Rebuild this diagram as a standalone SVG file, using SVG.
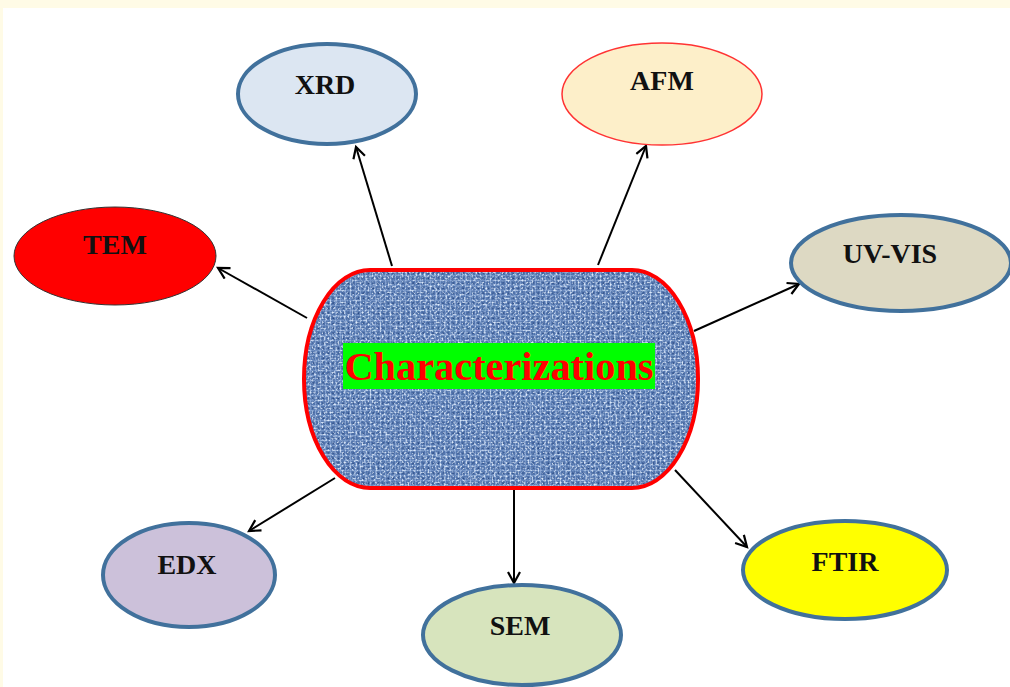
<svg xmlns="http://www.w3.org/2000/svg" width="1010" height="687" viewBox="0 0 1010 687">
  <style>
    .lbl { font-family: "Liberation Serif", "Times New Roman", serif; font-weight: bold; font-size: 28px; fill: #111; text-anchor: middle; }
    .blueline { stroke: #41719c; stroke-width: 4; }
    .conn { stroke: #000; stroke-width: 2; fill: none; marker-end: url(#arr); }
  </style>
  <defs>
    <marker id="arr" markerWidth="16" markerHeight="16" refX="12" refY="7" orient="auto" markerUnits="userSpaceOnUse">
      <path d="M1,1 L12,7 L1,13" fill="none" stroke="#000" stroke-width="2.2"/>
    </marker>
    <filter id="darkspk" x="0" y="0" width="100%" height="100%">
      <feTurbulence type="fractalNoise" baseFrequency="0.55 0.55" numOctaves="2" seed="3" result="n"/>
      <feColorMatrix in="n" type="matrix" values="0 0 0 0 0.10  0 0 0 0 0.20  0 0 0 0 0.45  3.2 0 0 0 -1.45" result="c"/>
      <feComposite in="c" in2="SourceGraphic" operator="in"/>
    </filter>
    <filter id="lightspk" x="0" y="0" width="100%" height="100%">
      <feTurbulence type="fractalNoise" baseFrequency="0.5 0.5" numOctaves="2" seed="11" result="n"/>
      <feColorMatrix in="n" type="matrix" values="0 0 0 0 0.72  0 0 0 0 0.82  0 0 0 0 0.96  0 3.2 0 0 -1.5" result="c"/>
      <feComposite in="c" in2="SourceGraphic" operator="in"/>
    </filter>
    <pattern id="weave" width="5" height="5" patternUnits="userSpaceOnUse">
      <rect width="5" height="5" fill="#4f72ab"/>
      <rect x="0" y="0" width="1" height="5" fill="#9fbbe6" opacity="0.55"/>
      <rect x="0" y="0" width="5" height="1" fill="#9fbbe6" opacity="0.45"/>
      <rect x="2.5" y="2.5" width="1.5" height="1.5" fill="#1a3670" opacity="0.7"/>
    </pattern>
    <clipPath id="mainclip">
      <path d="M370,270 L632,270 A66,109 0 0 1 632,488 L370,488 A66,109 0 0 1 370,270 Z"/>
    </clipPath>
  </defs>

  <rect x="0" y="0" width="1010" height="687" fill="#fffbe6"/>
  <rect x="3" y="8" width="1007" height="679" fill="#ffffff"/>

  <g id="connectors">
    <line class="conn" x1="392" y1="266" x2="356" y2="147"/>
    <line class="conn" x1="598" y1="265" x2="646" y2="146"/>
    <line class="conn" x1="307" y1="318" x2="218" y2="268"/>
    <line class="conn" x1="694" y1="331" x2="799" y2="284"/>
    <line class="conn" x1="335" y1="478" x2="249" y2="531"/>
    <line class="conn" x1="514" y1="490" x2="514" y2="583"/>
    <line class="conn" x1="675" y1="470" x2="747" y2="547"/>
  </g>

  <g id="center">
    <g clip-path="url(#mainclip)">
      <rect x="300" y="268" width="402" height="222" fill="url(#weave)"/>
      <rect x="300" y="268" width="402" height="222" fill="#4f72ab" filter="url(#darkspk)"/>
      <rect x="300" y="268" width="402" height="222" fill="#4f72ab" filter="url(#lightspk)"/>
    </g>
    <path d="M370,270 L632,270 A66,109 0 0 1 632,488 L370,488 A66,109 0 0 1 370,270 Z" fill="none" stroke="#ff0000" stroke-width="4"/>
    <rect x="343" y="343" width="312" height="46" fill="#00ff00"/>
    <text x="499" y="380" font-family="Liberation Serif, Times New Roman, serif" font-weight="bold" font-size="40" fill="#ff0000" text-anchor="middle" textLength="309" lengthAdjust="spacingAndGlyphs">Characterizations</text>
  </g>

  <g id="xrd">
    <ellipse cx="327" cy="94" rx="89" ry="50" fill="#dce6f2" class="blueline"/>
    <text class="lbl" x="325" y="94">XRD</text>
  </g>
  <g id="afm">
    <ellipse cx="662" cy="94" rx="100" ry="51" fill="#fdefc9" stroke="#ff3333" stroke-width="1.5"/>
    <text class="lbl" x="662" y="90">AFM</text>
  </g>
  <g id="tem">
    <ellipse cx="115" cy="256" rx="101" ry="49" fill="#ff0000" stroke="#333" stroke-width="1"/>
    <text class="lbl" x="115" y="254">TEM</text>
  </g>
  <g id="uvvis">
    <ellipse cx="901" cy="263" rx="110" ry="48" fill="#ddd9c3" class="blueline"/>
    <text class="lbl" x="890" y="263">UV-VIS</text>
  </g>
  <g id="edx">
    <ellipse cx="189" cy="575" rx="86" ry="52" fill="#ccc1da" class="blueline"/>
    <text class="lbl" x="187" y="574">EDX</text>
  </g>
  <g id="sem">
    <ellipse cx="522" cy="635" rx="99" ry="50" fill="#d7e4bd" class="blueline"/>
    <text class="lbl" x="520" y="635">SEM</text>
  </g>
  <g id="ftir">
    <ellipse cx="845" cy="570" rx="102" ry="49" fill="#ffff00" class="blueline"/>
    <text class="lbl" x="845" y="571">FTIR</text>
  </g>
</svg>
